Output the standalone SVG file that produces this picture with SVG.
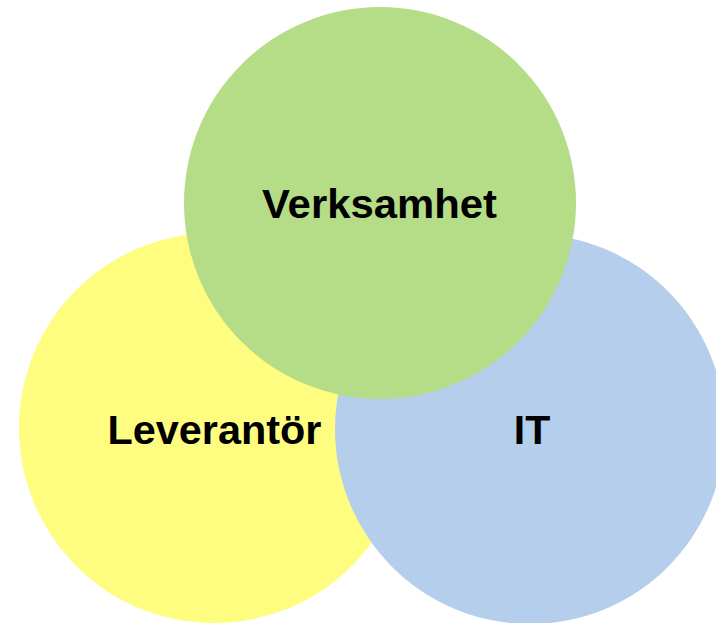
<svg xmlns="http://www.w3.org/2000/svg" width="716" height="623" viewBox="0 0 716 623">
<style>
.lbl{font-family:"Liberation Sans",Arial,sans-serif;font-weight:bold;font-size:41px;fill:#000;text-anchor:middle}
</style>
<rect width="716" height="623" fill="#fff"/>
<g id="leverantor">
<circle cx="214" cy="428" r="195" fill="#FFFD7F"/>
</g>
<g id="it">
<circle cx="530" cy="429" r="195" fill="#B4CEEC"/>
</g>
<g id="verksamhet">
<circle cx="380" cy="203" r="196" fill="#B5DC86"/>
<text class="lbl" x="379.5" y="218" textLength="235" lengthAdjust="spacingAndGlyphs">Verksamhet</text>
</g>
<g id="labels">
<text class="lbl" x="214.5" y="444" textLength="214" lengthAdjust="spacingAndGlyphs">Leverantör</text>
<text class="lbl" x="532" y="443.5">IT</text>
</g>
<g id="connectors"/>
</svg>
